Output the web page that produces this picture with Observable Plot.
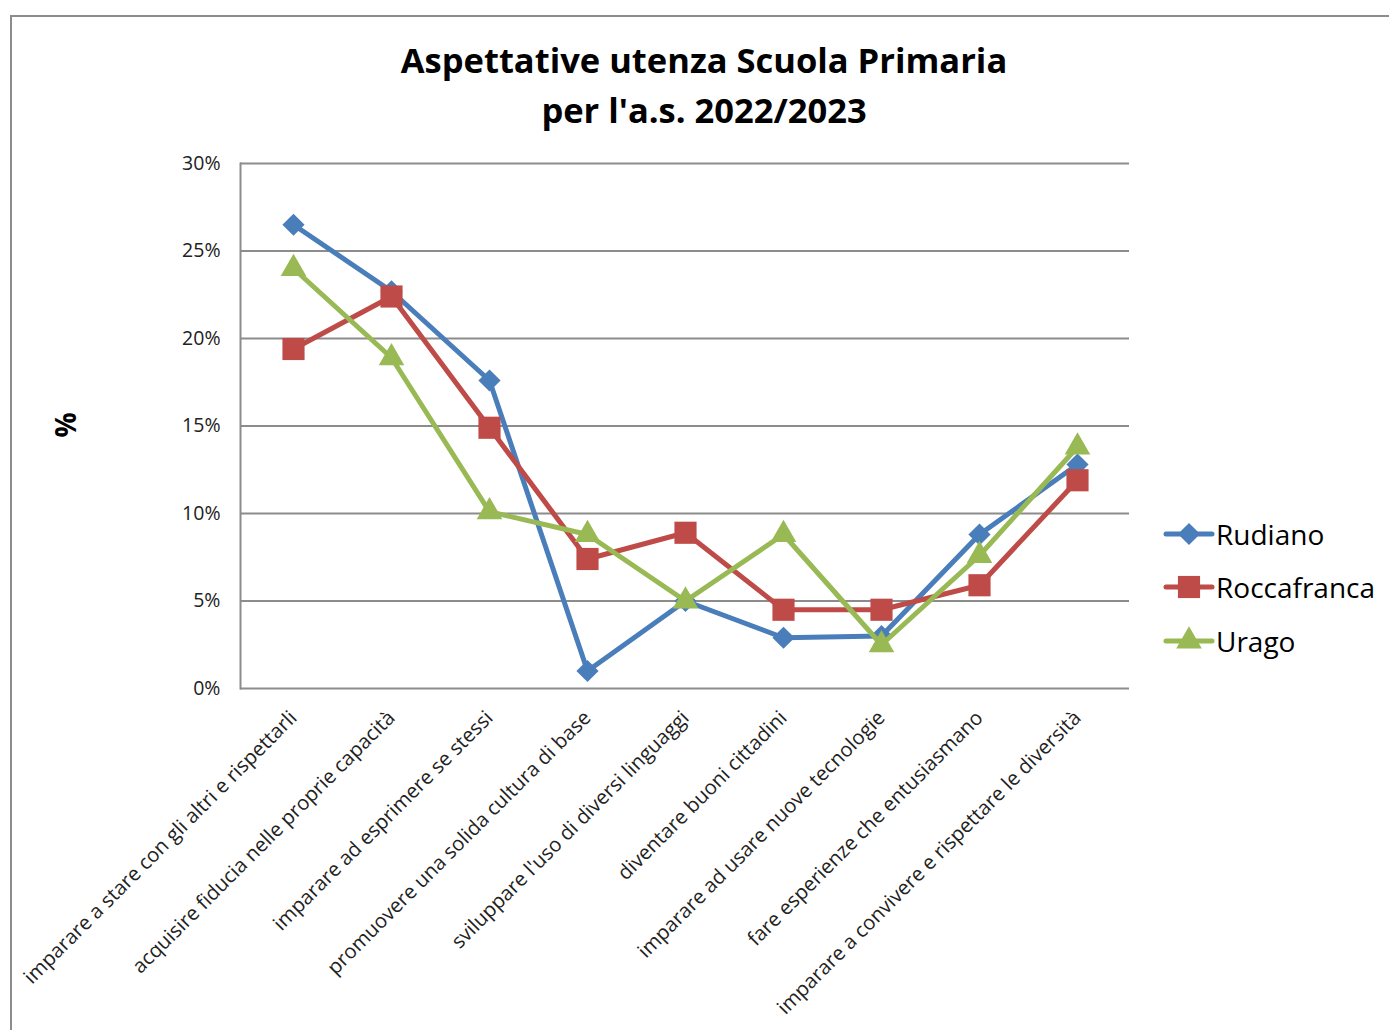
<!DOCTYPE html>
<html><head><meta charset="utf-8">
<script src="https://cdn.jsdelivr.net/npm/d3@7"></script>
<script src="https://cdn.jsdelivr.net/npm/@observablehq/plot@0.6"></script>
<style>
body{margin:0;background:#fff;}
#wrap{position:relative;width:1389px;height:1030px;overflow:hidden;font-family:"Open Sans",sans-serif;}
#frame{position:absolute;left:10px;top:15px;width:1500px;height:1200px;border:2px solid #8c8c8c;box-sizing:border-box;}
#title{position:absolute;left:0;width:1408px;top:35px;text-align:center;font-weight:bold;font-size:34.5px;line-height:50px;color:#000;}
#ylab{position:absolute;left:65px;top:425px;transform:translate(-50%,-50%) rotate(-90deg);font-weight:bold;font-size:28px;color:#000;}
#chart{position:absolute;left:0;top:0;}
#legend{position:absolute;left:1163px;top:507px;}
.li{display:flex;align-items:center;height:53.5px;font-size:28px;color:#000;}
.li svg{margin-right:1px;}
</style></head>
<body><div id="wrap">
<div id="frame"></div>
<div id="chart"></div>
<div id="title">Aspettative utenza Scuola Primaria<br>per l'a.s. 2022/2023</div>
<div id="ylab">%</div>
<div id="legend"></div>
</div>
<script>
const categories = [
  "imparare a stare con gli altri e rispettarli",
  "acquisire fiducia nelle proprie capacità",
  "imparare ad esprimere se stessi",
  "promuovere una solida cultura di base",
  "sviluppare l'uso di diversi linguaggi",
  "diventare buoni cittadini",
  "imparare ad usare nuove tecnologie",
  "fare esperienze che entusiasmano",
  "imparare a convivere e rispettare le diversità"
];
const seriesNames = ["Rudiano", "Roccafranca", "Urago"];
const rudiano     = [26.5, 22.7, 17.6, 1.0, 5.0, 2.9, 3.0, 8.8, 12.8];
const roccafranca = [19.4, 22.4, 14.9, 7.4, 8.9, 4.5, 4.5, 5.9, 11.9];
const urago       = [24.0, 18.9, 10.1, 8.8, 5.0, 8.8, 2.5, 7.6, 13.8];
const yTicks = [0, 5, 10, 15, 20, 25, 30];

const colors = ["#4a7ebb", "#be4b48", "#98b954"];
const symbols = ["diamond2", "square", "triangle"];
const symR = [10, 12.5, 9.5];
const values = [rudiano, roccafranca, urago];

const data = [];
seriesNames.forEach((s, i) => values[i].forEach((v, j) => data.push({series: s, cat: categories[j], value: v})));

const marks = [
  Plot.ruleY(yTicks, {stroke: "#8c8c8c", strokeWidth: 2}),
  Plot.frame({anchor: "left", stroke: "#8c8c8c", strokeWidth: 2}),
  Plot.axisY({ticks: yTicks, tickFormat: d => d + "%", tickSize: 0, tickPadding: 20, fontSize: 19.5, label: null, fill: "#222"}),
  Plot.axisX({tickRotate: -45, tickSize: 0, tickPadding: 26, fontSize: 20.2, label: null, fill: "#222"})
];
seriesNames.forEach((s, i) => {
  const d = data.filter(r => r.series === s);
  marks.push(Plot.line(d, {x: "cat", y: "value", stroke: colors[i], strokeWidth: 5, strokeLinejoin: "round"}));
  marks.push(Plot.dot(d, {x: "cat", y: "value", symbol: () => symbols[i], fill: colors[i], r: symR[i], stroke: "none"}));
});

const chart = Plot.plot({
  width: 1389, height: 1030,
  marginLeft: 240, marginRight: 260, marginTop: 163, marginBottom: 342,
  style: {fontFamily: "'Open Sans', sans-serif", fontSize: "19px", background: "transparent", overflow: "visible"},
  x: {type: "point", domain: categories, padding: 0.5},
  y: {domain: [0, 30]},
  symbol: {type: "identity"},
  marks
});
document.getElementById("chart").appendChild(chart);

const symMap = {diamond2: d3.symbolDiamond2, square: d3.symbolSquare, triangle: d3.symbolTriangle};
const leg = d3.select("#legend");
seriesNames.forEach((s, i) => {
  const item = leg.append("div").attr("class", "li");
  const svg = item.append("svg").attr("width", 52).attr("height", 30);
  svg.append("line").attr("x1", 3).attr("x2", 49).attr("y1", 15).attr("y2", 15).attr("stroke", colors[i]).attr("stroke-width", 5).attr("stroke-linecap", "round");
  svg.append("path").attr("transform", "translate(26,15)").attr("d", d3.symbol(symMap[symbols[i]], Math.PI * symR[i] * symR[i])()).attr("fill", colors[i]);
  item.append("span").text(s);
});
</script>
</body></html>
